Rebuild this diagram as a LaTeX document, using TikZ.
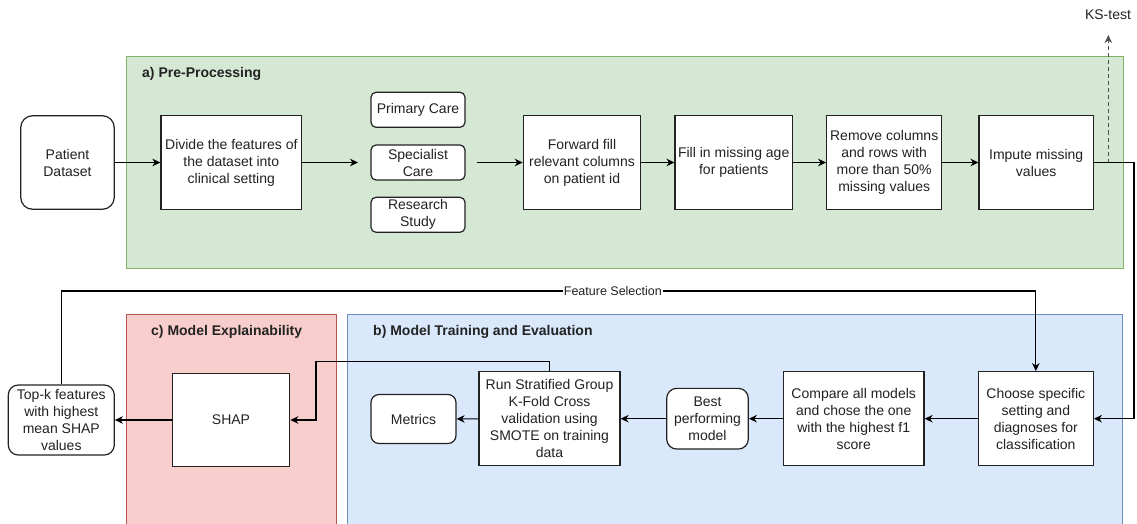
\documentclass[tikz,border=0pt]{standalone}
\usepackage{fontspec}
\setmainfont{Liberation Sans}
\usetikzlibrary{arrows.meta}

\definecolor{greenfill}{HTML}{D5E8D4}
\definecolor{greenline}{HTML}{82B366}
\definecolor{bluefill}{HTML}{DAE8FC}
\definecolor{blueline}{HTML}{6C8EBF}
\definecolor{redfill}{HTML}{F8CECC}
\definecolor{redline}{HTML}{B85450}
\definecolor{ink}{HTML}{222222}

\tikzset{
  panel/.style={line width=1pt},
  paneltitle/.style={anchor=west, font=\fontsize{14}{17}\selectfont\bfseries, text=ink, inner sep=0pt},
  stepbox/.style={draw=ink, fill=white, line width=1.2pt, align=center, inner sep=2pt,
    font=\fontsize{14}{17}\selectfont, text=ink},
  roundbox/.style={stepbox, rounded corners=#1},
  roundbox/.default=6pt,
  arr/.style={draw=black, line width=1.2pt, -{Stealth[length=8pt,width=7.5pt,inset=2.5pt]}},
  flat/.style={draw=black, line width=1.2pt},
  lbl/.style={font=\fontsize{12.5}{15}\selectfont, text=ink, fill=white, inner sep=1pt}
}

\begin{document}
\begin{tikzpicture}[x=1pt, y=-1pt]
\useasboundingbox (0,0) rectangle (1137,524);
\clip (0,0) rectangle (1137,524);
\fill[white] (0,0) rectangle (1137,524);

% panels
\draw[panel, fill=greenfill, draw=greenline] (126,57) rectangle (1123,268);
\draw[panel, fill=redfill, draw=redline] (126,314.5) rectangle (336.5,540);
\draw[panel, fill=bluefill, draw=blueline] (347.5,314.5) rectangle (1122.5,540);

\node[paneltitle] (ta) at (142,73.5) {a) Pre-Processing};
\node[paneltitle] (tc) at (151,331.5) {c) Model Explainability};
\node[paneltitle] (tb) at (373,331.5) {b) Model Training and Evaluation};

% a) pre-processing row
\node[roundbox=12pt, minimum width=93.6pt, minimum height=93.6pt] (patient) at (67.5,162.5) {Patient\\Dataset};
\node[stepbox, minimum width=140.7pt, minimum height=93.6pt] (divide) at (231.3,162.5) {Divide the features of\\the dataset into\\clinical setting};
\node[roundbox=5pt, minimum width=94pt, minimum height=35pt] (primary) at (418,109.8) {Primary Care};
\node[roundbox=5pt, minimum width=94pt, minimum height=35pt] (specialist) at (418,162.5) {Specialist\\Care};
\node[roundbox=5pt, minimum width=94pt, minimum height=35pt] (research) at (418,214.8) {Research\\Study};
\node[stepbox, minimum width=117.4pt, minimum height=93.6pt] (ffill) at (582,162.5) {Forward fill\\relevant columns\\on patient id};
\node[stepbox, minimum width=117.3pt, minimum height=93.6pt] (age) at (733.7,162.5) {Fill in missing age\\for patients};
\node[stepbox, minimum width=115pt, minimum height=93.6pt] (remove) at (884.2,162.5) {Remove columns\\and rows with\\more than 50\%\\missing values};
\node[stepbox, minimum width=114.3pt, minimum height=93.6pt] (impute) at (1036.2,162.5) {Impute missing\\values};

\coordinate (groupin) at (358,162.5);
\coordinate (groupout) at (476.7,162.5);
\coordinate (rturn) at (1134,162.5);
\coordinate (ksfrom) at (1108.3,162.5);
\coordinate (ksto) at (1108.3,35);
\node[font=\fontsize{14}{17}\selectfont, text=ink] (ks) at (1108,15) {KS-test};

\draw[arr] (patient) -- (divide);
\draw[arr] (divide) -- (groupin);
\draw[arr] (groupout) -- (ffill);
\draw[arr] (ffill) -- (age);
\draw[arr] (age) -- (remove);
\draw[arr] (remove) -- (impute);
\draw[arr, dashed, dash pattern=on 4pt off 3pt, draw=ink!80] (ksfrom) -- (ksto);

% b) and c) row
\node[roundbox=10pt, minimum width=106pt, minimum height=70pt] (topk) at (61.3,420) {Top-k features\\with highest\\mean SHAP\\values};
\node[stepbox, minimum width=117.4pt, minimum height=93.7pt] (shap) at (231,420) {SHAP};
\node[roundbox=8pt, minimum width=85pt, minimum height=49pt] (metrics) at (413.5,419) {Metrics};
\node[stepbox, minimum width=141pt, minimum height=94pt] (run) at (549.5,418.7) {Run Stratified Group\\K-Fold Cross\\validation using\\SMOTE on training\\data};
\node[roundbox=10pt, minimum width=81.6pt, minimum height=60.7pt] (best) at (707.5,418.7) {Best\\performing\\model};
\node[stepbox, minimum width=140.7pt, minimum height=94pt] (compare) at (853.7,418.7) {Compare all models\\and chose the one\\with the highest f1\\score};
\node[stepbox, minimum width=115pt, minimum height=94pt] (choose) at (1035.8,418.7) {Choose specific\\setting and\\diagnoses for\\classification};

\coordinate (fsy) at (0,291);
\coordinate (shapturn) at (316,361.7);

\draw[arr] (impute.east) -- (rturn) |- (choose.east);
\draw[arr] (topk.north) -- (topk.north |- fsy)
  -- node[lbl, pos=0.566] {Feature Selection} (choose.north |- fsy) -- (choose.north);
\draw[arr] (choose) -- (compare);
\draw[arr] (compare) -- (best);
\draw[arr] (best) -- (run);
\draw[arr] (run) -- (metrics);
\draw[arr] (run.north) |- (shapturn) |- (shap.east);
\draw[arr] (shap) -- (topk);
\end{tikzpicture}
\end{document}
